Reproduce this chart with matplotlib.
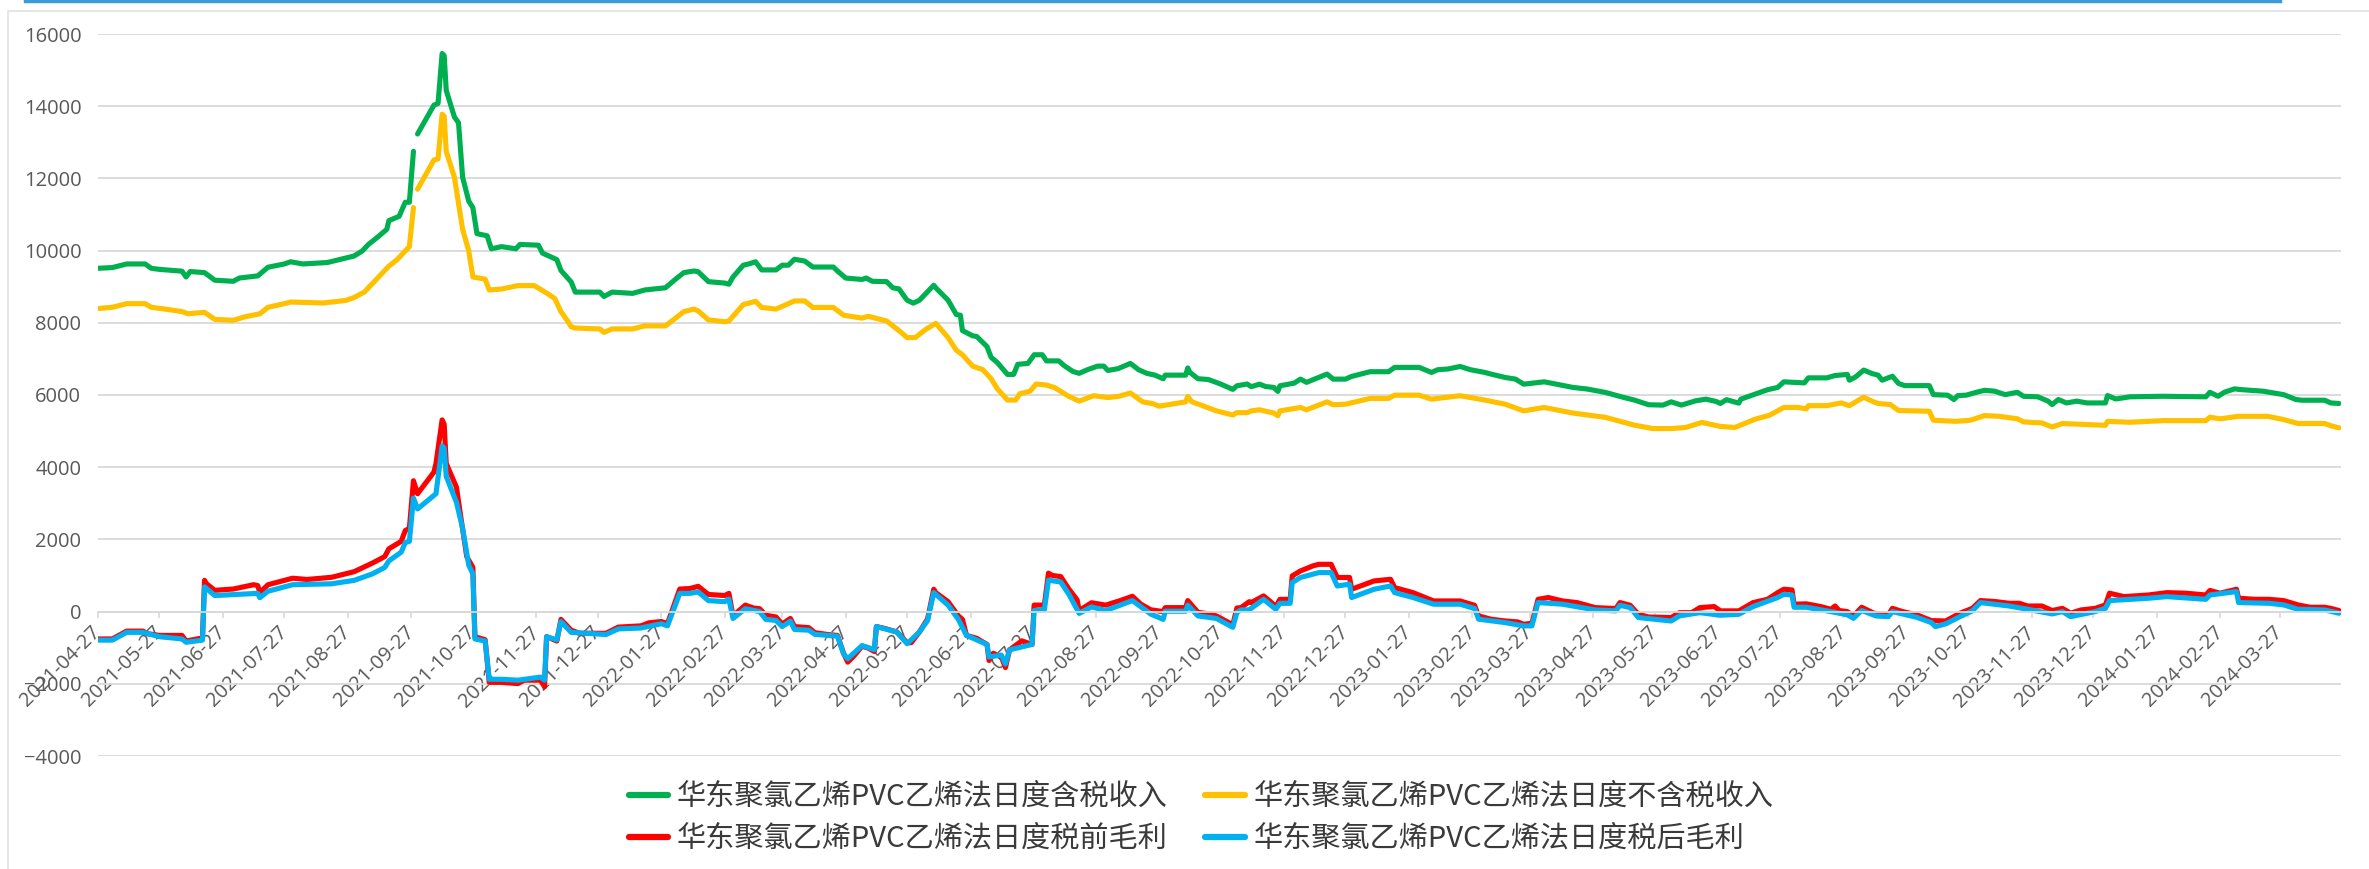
import numpy as np
import pandas as pd
import matplotlib
matplotlib.use("Agg")
import matplotlib.pyplot as plt
import matplotlib.dates as mdates
from matplotlib.lines import Line2D
from matplotlib.patches import Rectangle
from matplotlib.font_manager import FontProperties

nan = np.nan
start = pd.Timestamp("2021-04-27")

# (days since 2021-04-27, yuan/ton)
incl_tax = [
    (0, 9510), (7, 9530), (14, 9630), (23, 9630), (26, 9510), (30, 9480), (41, 9430), (43, 9270),
    (45, 9420), (52, 9390), (57, 9180), (66, 9150), (69, 9240), (78, 9300), (83, 9540), (91, 9630),
    (94, 9690), (100, 9630), (112, 9670), (125, 9850), (129, 9990), (132, 10170), (136, 10350),
    (141, 10590), (142, 10830), (147, 10950), (150, 11340), (152, 11340), (154, 12750), (155, nan),
    (156, 13230), (164, 14030), (166, 14075), (168, 15460), (169, 15400), (170, 14440), (174, 13700),
    (176, 13540), (178, 12030), (181, 11370), (183, 11190), (185, 10470), (190, 10410), (192, 10050),
    (197, 10110), (204, 10050), (206, 10170), (215, 10150), (217, 9930), (224, 9750), (226, 9450),
    (231, 9130), (233, 8850), (245, 8850), (247, 8730), (251, 8850), (261, 8815), (267, 8910),
    (277, 8970), (282, 9210), (286, 9390), (291, 9435), (293, 9415), (298, 9140), (306, 9100),
    (308, 9070), (310, 9270), (315, 9595), (318, 9635), (321, 9690), (324, 9465), (331, 9465),
    (334, 9595), (337, 9595), (340, 9760), (345, 9710), (349, 9545), (359, 9545), (361, 9435),
    (365, 9240), (373, 9200), (375, 9240), (378, 9150), (385, 9140), (388, 8970), (391, 8940),
    (395, 8625), (398, 8545), (401, 8625), (408, 9040), (409, 8970), (415, 8625), (419, 8230),
    (421, 8210), (422, 7785), (427, 7640), (429, 7620), (434, 7340), (436, 7045), (439, 6900),
    (444, 6570), (447, 6570), (449, 6850), (454, 6875), (457, 7115), (461, 7115), (463, 6945),
    (469, 6945), (472, 6800), (476, 6650), (479, 6600), (483, 6700), (488, 6800), (491, 6800),
    (493, 6680), (498, 6730), (504, 6875), (508, 6700), (512, 6600), (516, 6550), (520, 6450),
    (521, 6550), (531, 6550), (532, 6750), (533, 6630), (537, 6450), (542, 6430), (548, 6305),
    (554, 6155), (556, 6255), (561, 6305), (563, 6230), (567, 6300), (570, 6235), (574, 6210),
    (576, 6100), (577, 6255), (584, 6330), (587, 6440), (590, 6350), (593, 6420), (600, 6580),
    (603, 6440), (609, 6440), (612, 6515), (621, 6645), (630, 6645), (633, 6765), (645, 6765),
    (651, 6625), (654, 6700), (659, 6720), (665, 6790), (670, 6700), (677, 6625), (680, 6580),
    (687, 6485), (692, 6440), (696, 6300), (706, 6365), (712, 6300), (720, 6210), (727, 6165),
    (736, 6070), (745, 5930), (750, 5860), (757, 5730), (764, 5720), (768, 5810), (773, 5720),
    (780, 5840), (785, 5885), (790, 5820), (792, 5765), (795, 5870), (801, 5775), (802, 5885),
    (809, 6025), (815, 6145), (820, 6210), (823, 6365), (833, 6335), (835, 6475), (844, 6475),
    (848, 6540), (854, 6570), (855, 6410), (858, 6500), (862, 6690), (866, 6595), (869, 6550),
    (871, 6410), (876, 6520), (879, 6320), (882, 6260), (894, 6260), (896, 6010), (903, 5995),
    (906, 5875), (908, 5985), (912, 5995), (917, 6075), (921, 6130), (926, 6105), (931, 6010),
    (937, 6075), (940, 5965), (947, 5950), (952, 5830), (954, 5735), (957, 5875), (961, 5780),
    (966, 5830), (971, 5780), (980, 5780), (981, 5985), (985, 5890), (992, 5950), (1008, 5965),
    (1029, 5950), (1031, 6075), (1035, 5965), (1038, 6075), (1043, 6170), (1046, 6150),
    (1057, 6105), (1067, 6010), (1073, 5875), (1076, 5855), (1087, 5855), (1090, 5780), (1094, 5765),
]

excl_tax = [
    (0, 8395), (7, 8430), (14, 8530), (23, 8530), (26, 8430), (34, 8370), (41, 8310), (44, 8250),
    (52, 8290), (57, 8095), (66, 8070), (72, 8170), (79, 8250), (83, 8430), (91, 8530), (94, 8575),
    (110, 8550), (121, 8620), (125, 8700), (130, 8850), (136, 9210), (142, 9570), (146, 9750),
    (151, 10050), (152, 10110), (154, 11190), (155, nan), (156, 11700), (164, 12510), (166, 12540),
    (168, 13780), (169, 13720), (170, 12750), (174, 12030), (178, 10590), (181, 9990), (183, 9270),
    (189, 9210), (191, 8910), (197, 8935), (205, 9030), (213, 9030), (220, 8790), (223, 8670),
    (226, 8310), (229, 8070), (231, 7890), (233, 7855), (245, 7830), (247, 7735), (251, 7830),
    (261, 7830), (267, 7915), (277, 7915), (282, 8130), (286, 8310), (291, 8380), (293, 8330),
    (298, 8080), (306, 8030), (308, 8050), (315, 8505), (321, 8595), (324, 8425), (331, 8380),
    (336, 8505), (340, 8605), (345, 8605), (349, 8425), (359, 8425), (364, 8210), (373, 8130),
    (376, 8180), (385, 8050), (391, 7785), (395, 7590), (399, 7590), (404, 7815), (409, 7985),
    (415, 7590), (419, 7240), (422, 7115), (427, 6800), (432, 6700), (436, 6450), (439, 6175),
    (444, 5860), (448, 5860), (450, 6035), (455, 6105), (458, 6305), (463, 6275), (467, 6205),
    (474, 5960), (479, 5830), (486, 5980), (493, 5930), (498, 5960), (504, 6055), (510, 5810),
    (515, 5760), (518, 5690), (531, 5810), (532, 5960), (534, 5810), (539, 5710), (546, 5560),
    (554, 5445), (556, 5510), (561, 5510), (563, 5560), (567, 5590), (574, 5500), (576, 5425),
    (577, 5560), (587, 5655), (590, 5590), (600, 5810), (603, 5730), (609, 5745), (621, 5905),
    (630, 5905), (633, 5995), (645, 5995), (651, 5885), (665, 5980), (677, 5860), (687, 5745),
    (696, 5560), (706, 5655), (720, 5500), (736, 5380), (750, 5165), (759, 5070), (768, 5070),
    (775, 5100), (783, 5240), (792, 5130), (799, 5100), (809, 5330), (816, 5440), (823, 5655),
    (830, 5655), (834, 5615), (835, 5705), (844, 5705), (851, 5780), (855, 5705), (862, 5940),
    (866, 5830), (869, 5765), (875, 5735), (879, 5570), (894, 5550), (896, 5300), (907, 5270),
    (914, 5300), (921, 5430), (928, 5410), (937, 5340), (940, 5255), (949, 5225), (954, 5115),
    (959, 5210), (980, 5160), (981, 5270), (992, 5245), (1008, 5290), (1029, 5290), (1031, 5385),
    (1036, 5340), (1045, 5410), (1059, 5410), (1067, 5320), (1074, 5210), (1087, 5210),
    (1090, 5150), (1094, 5090),
]

pre_tax_margin = [
    (0, -757), (7, -757), (14, -540), (22, -540), (24, -610), (30, -660), (41, -660), (43, -815),
    (51, -730), (52, 865), (53, 770), (57, 590), (66, 625), (76, 745), (78, 720), (79, 530),
    (83, 745), (95, 925), (102, 890), (114, 950), (125, 1105), (134, 1345), (140, 1525),
    (142, 1740), (148, 1945), (150, 2245), (152, 2305), (154, 3625), (156, 3265), (164, 3865),
    (165, 4105), (168, 5310), (169, 5190), (170, 4105), (175, 3445), (177, 2665), (180, 1525),
    (183, 1225), (184, -695), (189, -780), (191, -1960), (197, -1960), (205, -1995), (208, -1900),
    (216, -1900), (218, -2080), (219, -695), (224, -815), (226, -215), (231, -515), (235, -600),
    (248, -600), (254, -430), (265, -395), (269, -310), (275, -275), (278, -335), (284, 625),
    (289, 640), (293, 700), (298, 475), (306, 445), (308, 505), (310, -120), (316, 180), (320, 100),
    (323, 80), (326, -100), (331, -150), (334, -345), (338, -190), (340, -415), (347, -445),
    (350, -585), (357, -640), (361, -660), (364, -1155), (366, -1400), (369, -1230), (373, -960),
    (376, -1010), (379, -1105), (380, -415), (384, -465), (390, -565), (395, -860), (397, -860),
    (401, -565), (405, -200), (408, 620), (409, 525), (415, 275), (420, -120), (422, -215),
    (424, -660), (429, -740), (434, -910), (435, -1355), (437, -1155), (441, -1255), (443, -1550),
    (445, -1060), (451, -810), (456, -910), (457, 180), (462, 180), (464, 1065), (466, 1000),
    (470, 970), (474, 620), (478, 325), (479, 30), (485, 245), (492, 180), (499, 305), (505, 425),
    (509, 210), (514, 50), (520, 0), (521, 110), (531, 110), (532, 305), (537, -20), (543, -70),
    (546, -120), (554, -365), (556, 100), (558, 110), (562, 275), (563, 250), (569, 435),
    (572, 295), (575, 140), (577, 340), (582, 340), (583, 990), (587, 1125), (593, 1265),
    (596, 1310), (602, 1310), (605, 945), (611, 945), (612, 620), (623, 850), (631, 895),
    (633, 665), (642, 525), (652, 295), (665, 295), (672, 175), (674, -120), (680, -210),
    (687, -260), (693, -285), (696, -350), (700, -325), (703, 340), (708, 390), (715, 295),
    (722, 250), (731, 110), (741, 85), (743, 250), (748, 175), (752, -75), (757, -150),
    (768, -165), (772, -30), (778, -30), (782, 110), (789, 140), (792, 20), (801, 20), (808, 250),
    (815, 340), (820, 525), (823, 620), (827, 600), (828, 205), (834, 215), (841, 140), (846, 65),
    (848, 155), (850, 30), (854, 0), (857, -120), (861, 120), (867, -45), (874, -90), (876, 90),
    (881, 0), (888, -90), (895, -250), (902, -260), (909, -45), (915, 90), (919, 305), (926, 280),
    (933, 230), (938, 230), (942, 155), (949, 155), (954, 30), (959, 90), (963, -45), (968, 45),
    (975, 90), (980, 185), (982, 510), (989, 415), (1001, 460), (1010, 525), (1019, 510),
    (1029, 460), (1031, 585), (1036, 510), (1044, 620), (1045, 370), (1053, 340), (1060, 340),
    (1067, 305), (1074, 185), (1080, 120), (1087, 120), (1090, 90), (1094, 30),
]

post_tax_margin = [
    (0, -790), (7, -790), (14, -575), (22, -575), (30, -695), (41, -757), (43, -850), (51, -790),
    (52, 685), (57, 445), (66, 470), (78, 505), (79, 385), (83, 565), (95, 745), (114, 770),
    (125, 865), (134, 1045), (140, 1225), (142, 1405), (148, 1645), (150, 1910), (152, 1945),
    (154, 3145), (156, 2845), (165, 3265), (168, 4590), (169, 4530), (170, 3745), (175, 3025),
    (178, 2305), (181, 1285), (183, 1045), (184, -757), (189, -815), (191, -1875), (197, -1875),
    (205, -1900), (216, -1815), (218, -1900), (219, -695), (224, -780), (226, -275), (231, -575),
    (248, -635), (254, -480), (265, -455), (275, -335), (278, -395), (284, 505), (289, 505),
    (293, 545), (298, 305), (306, 275), (308, 345), (310, -190), (316, 80), (323, 0), (326, -215),
    (331, -245), (334, -415), (338, -265), (340, -495), (347, -515), (350, -630), (361, -680),
    (364, -1175), (366, -1305), (373, -940), (379, -1055), (380, -415), (390, -565), (395, -890),
    (401, -565), (405, -245), (408, 525), (415, 180), (420, -215), (424, -660), (434, -910),
    (435, -1255), (441, -1205), (443, -1450), (445, -1060), (456, -910), (457, 30), (462, 50),
    (464, 870), (470, 820), (474, 475), (479, -50), (485, 130), (492, 30), (505, 305), (514, -70),
    (520, -215), (521, 10), (531, 10), (532, 180), (537, -120), (546, -190), (554, -435),
    (556, -20), (558, 45), (562, 50), (569, 340), (575, 65), (577, 230), (582, 230), (583, 805),
    (587, 945), (596, 1080), (602, 1080), (605, 710), (611, 760), (612, 390), (623, 620),
    (631, 710), (633, 525), (642, 390), (652, 205), (665, 205), (672, 85), (674, -210),
    (687, -305), (696, -395), (700, -395), (703, 250), (715, 205), (731, 45), (741, 20),
    (743, 175), (748, 110), (752, -165), (768, -260), (772, -120), (782, -30), (792, -100),
    (801, -75), (808, 140), (820, 390), (823, 480), (827, 460), (828, 120), (834, 120), (846, 0),
    (854, -90), (857, -185), (861, 30), (868, -120), (874, -140), (876, 0), (888, -160),
    (895, -305), (897, -415), (902, -340), (909, -140), (915, 20), (919, 250), (933, 155),
    (942, 65), (954, -65), (959, 0), (963, -140), (975, 0), (980, 90), (982, 305), (1001, 370),
    (1010, 415), (1029, 340), (1031, 460), (1044, 555), (1045, 250), (1060, 230), (1067, 185),
    (1074, 65), (1087, 45), (1094, -45),
]

labels = [
    "华东聚氯乙烯PVC乙烯法日度含税收入",
    "华东聚氯乙烯PVC乙烯法日度不含税收入",
    "华东聚氯乙烯PVC乙烯法日度税前毛利",
    "华东聚氯乙烯PVC乙烯法日度税后毛利",
]
colors = ["#00B050", "#FFC000", "#FF0000", "#00B0F0"]
yticks = list(range(-4000, 16001, 2000))


def unpack(pairs):
    days, vals = zip(*pairs)
    return start + pd.to_timedelta(days, unit="D"), np.array(vals, dtype=float)


W, H = 2369, 869
fig = plt.figure(figsize=(W / 100, H / 100), dpi=100)
ax = fig.add_axes([98 / W, 1 - 756 / H, (2341 - 98) / W, (756 - 34) / H])

handles = []
for series, color, label in zip([incl_tax, excl_tax, pre_tax_margin, post_tax_margin], colors, labels):
    x, y = unpack(series)
    (ln,) = ax.plot(x, y, color=color, lw=3.7, solid_joinstyle="round", solid_capstyle="round",
                    label=label)
    handles.append(ln)

ax.set_ylim(-4000, 16000)
ax.set_xlim(start, pd.Timestamp("2024-04-26"))
ax.set_yticks(yticks)
ax.grid(axis="y", color="#D9D9D9", lw=1.3)
ax.set_axisbelow(True)

ax.xaxis.set_major_locator(mdates.MonthLocator(bymonthday=27))
ax.xaxis.set_major_formatter(mdates.DateFormatter("%Y-%m-%d"))

for side in ["top", "right", "left"]:
    ax.spines[side].set_visible(False)
ax.spines["bottom"].set_position(("data", 0))
ax.spines["bottom"].set_color("#D9D9D9")
ax.spines["bottom"].set_linewidth(1.3)

ax.tick_params(axis="y", length=0, pad=12, labelsize=14.5, labelcolor="#595959")
ax.tick_params(axis="x", length=4, color="#D9D9D9", width=1.2, pad=9, labelsize=14.5,
               labelcolor="#595959")
for t in ax.get_yticklabels() + ax.get_xticklabels():
    t.set_fontfamily("Open Sans")
for t in ax.get_xticklabels():
    t.set_rotation(45)
    t.set_ha("right")
    t.set_va("center")
    t.set_rotation_mode("anchor")

# legend: row 1 green/yellow, row 2 red/blue
order = [0, 2, 1, 3]
leg = fig.legend([handles[i] for i in order], [labels[i] for i in order],
                 loc="center", bbox_to_anchor=(0.507, 1 - 818 / H), ncol=2, frameon=False,
                 prop=FontProperties(family=["Noto Sans CJK SC", "DejaVu Sans"], size=21),
                 handlelength=1.35, handletextpad=0.3, columnspacing=1.3, labelspacing=0.42)
for t in leg.get_texts():
    t.set_color("#3A3A3A")
for h in leg.legend_handles:
    h.set_linewidth(4.5)

# chart frame and the blue strip at the top of the screenshot
fig.add_artist(Rectangle((8 / W, -0.02), 1.0, 1 - 11 / H + 0.02, transform=fig.transFigure,
                         fill=False, edgecolor="#E2E2E2", lw=1.2))
fig.add_artist(Line2D([25 / W, 2280 / W], [1 - 1 / H, 1 - 1 / H], transform=fig.transFigure,
                      color="#3C9BD6", lw=2.5))

fig.savefig("out.png", dpi=100)
